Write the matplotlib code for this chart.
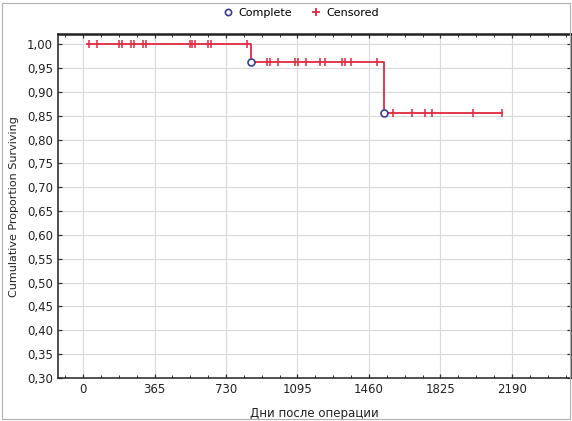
import numpy as np
import matplotlib
matplotlib.use("Agg")
import matplotlib.pyplot as plt
from matplotlib.lines import Line2D
from matplotlib.patches import Rectangle
from matplotlib.ticker import FuncFormatter, MultipleLocator

# Ступенчатая кривая (день начала ступени -> доля выживших)
step_days = [20, 858, 1537, 2139]
step_surv = [1.0, 0.962, 0.856, 0.856]

# Полные наблюдения (события)
complete_days = [858, 1537]

# Цензурированные наблюдения
censored_days = [31, 71, 184, 199, 245, 260, 306, 322, 546, 556, 572, 638, 653, 837,
                 939, 955, 996, 1082, 1098, 1138, 1210, 1235, 1322, 1337, 1368, 1501,
                 1583, 1680, 1746, 1782, 1991, 2139]

x_ticks = [0, 365, 730, 1095, 1460, 1825, 2190]

line_red = "#e2283e"
circ_blue = "#3c3c96"
txt = "#222222"


def surv_at(t):
    # значение ступенчатой функции в момент t
    idx = np.searchsorted(step_days, t, side="right") - 1
    return np.array(step_surv)[np.clip(idx, 0, len(step_surv) - 1)]


fig = plt.figure(figsize=(5.72, 4.21), dpi=100)
ax = fig.add_axes([0.1014, 0.102, 0.8966, 0.817])

ax.step(step_days, step_surv, where="post", color=line_red, lw=1.3, zorder=3)
ax.plot(censored_days, surv_at(np.array(censored_days)), ls="none", marker="|",
        ms=6, mew=1.1, color=line_red, zorder=4)
ax.plot(complete_days, surv_at(np.array(complete_days)), ls="none", marker="o",
        ms=5, mew=1.2, mfc="white", mec=circ_blue, zorder=5)

ax.set_xlim(-128, 2491)
ax.set_ylim(0.30, 1.021)
ax.set_xticks(x_ticks)
ax.xaxis.set_minor_locator(MultipleLocator(91.25))
ax.yaxis.set_major_locator(MultipleLocator(0.05))
ax.yaxis.set_major_formatter(FuncFormatter(lambda v, p: f"{v:.2f}".replace(".", ",")))

ax.grid(True, which="major", color="#d9d9d9", lw=0.8)
ax.set_axisbelow(True)
ax.tick_params(which="both", direction="in", top=True, right=True, colors="#333333",
               labelcolor=txt, labelsize=8.5)
ax.tick_params(which="major", length=3, width=0.9)
ax.tick_params(which="minor", length=2, width=0.7)
for s in ax.spines.values():
    s.set_color("#222222")
    s.set_linewidth(1.1)
ax.spines["top"].set_linewidth(1.8)

ax.set_xlabel("Дни после операции", fontsize=8.5, color=txt, labelpad=8)
ax.set_ylabel("Cumulative Proportion Surviving", fontsize=8, color=txt, labelpad=6)

handles = [
    Line2D([], [], ls="none", marker="o", ms=4.5, mfc="white", mec=circ_blue, mew=1.2),
    Line2D([], [], ls="none", marker="+", ms=6, mew=1.3, color=line_red),
]
fig.legend(handles, ["Complete", "Censored"], loc="upper center", ncol=2,
           bbox_to_anchor=(0.525, 1.005), frameon=False, fontsize=8,
           handletextpad=0.3, columnspacing=1.6, handlelength=1.2)

fig.patches.append(Rectangle((0.004, 0.004), 0.992, 0.99, transform=fig.transFigure,
                             fill=False, edgecolor="#b0b0b0", lw=0.8))

fig.savefig("out.png", dpi=100)
